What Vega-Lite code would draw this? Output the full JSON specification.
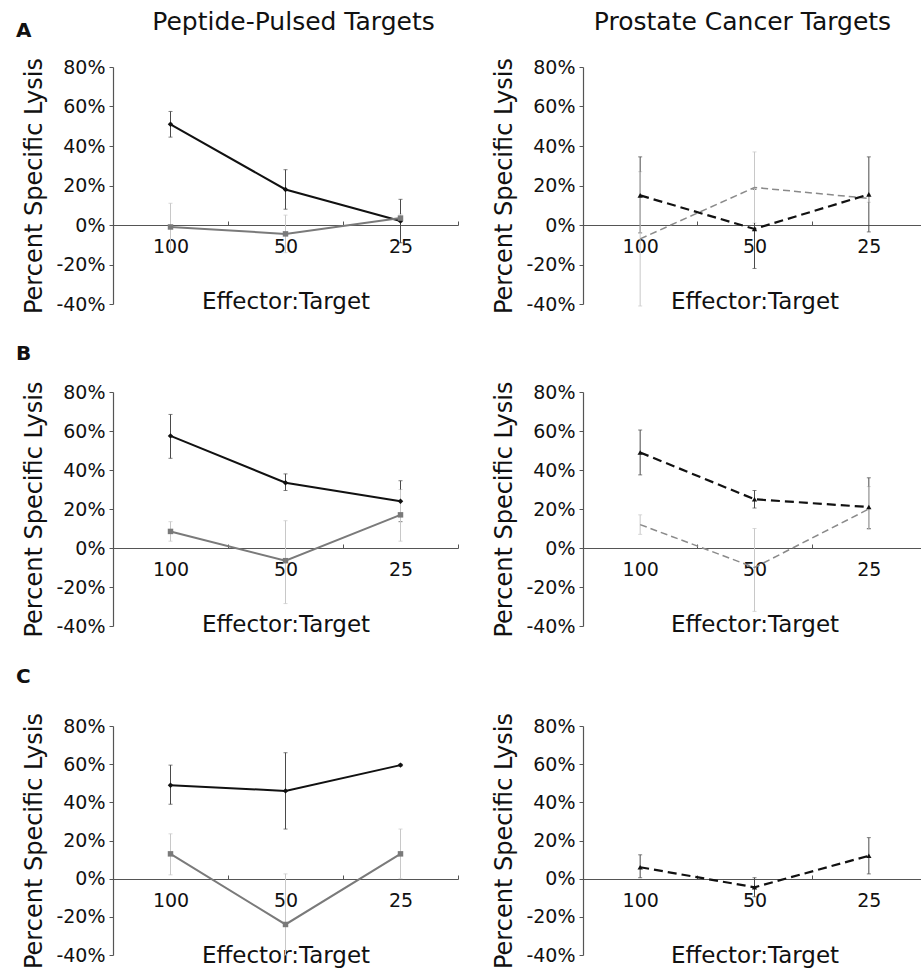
{
  "$schema": "https://vega.github.io/schema/vega-lite/v6.json",
  "background": "white",
  "padding": {"left": 15, "top": 10, "right": 0, "bottom": 0},
  "datasets": {
    "lysis": [
      {"panel": "A-peptide", "ratio": "100", "series": "target", "pct": 51, "lo": 44.5, "hi": 57.5},
      {"panel": "A-peptide", "ratio": "50", "series": "target", "pct": 18, "lo": 8, "hi": 28},
      {"panel": "A-peptide", "ratio": "25", "series": "target", "pct": 2, "lo": -9, "hi": 13},
      {"panel": "A-peptide", "ratio": "100", "series": "control", "pct": -1, "lo": -13, "hi": 11},
      {"panel": "A-peptide", "ratio": "50", "series": "control", "pct": -4.5, "lo": -14, "hi": 5},
      {"panel": "A-peptide", "ratio": "25", "series": "control", "pct": 3.5, "lo": 1.5, "hi": 5.5},

      {"panel": "A-prostate", "ratio": "100", "series": "target", "pct": 15, "lo": -4, "hi": 34.5},
      {"panel": "A-prostate", "ratio": "50", "series": "target", "pct": -2, "lo": -22, "hi": 18},
      {"panel": "A-prostate", "ratio": "25", "series": "target", "pct": 15.5, "lo": -3.5, "hi": 34.5},
      {"panel": "A-prostate", "ratio": "100", "series": "control", "pct": -7, "lo": -41, "hi": 27},
      {"panel": "A-prostate", "ratio": "50", "series": "control", "pct": 19, "lo": 1, "hi": 37},
      {"panel": "A-prostate", "ratio": "25", "series": "control", "pct": 13.5, "lo": 11.5, "hi": 15.5},

      {"panel": "B-peptide", "ratio": "100", "series": "target", "pct": 57.5, "lo": 46, "hi": 68.5},
      {"panel": "B-peptide", "ratio": "50", "series": "target", "pct": 33.5, "lo": 29.5, "hi": 38},
      {"panel": "B-peptide", "ratio": "25", "series": "target", "pct": 24, "lo": 13.5, "hi": 34.5},
      {"panel": "B-peptide", "ratio": "100", "series": "control", "pct": 8.5, "lo": 3.5, "hi": 13.5},
      {"panel": "B-peptide", "ratio": "50", "series": "control", "pct": -6.5, "lo": -28.5, "hi": 14},
      {"panel": "B-peptide", "ratio": "25", "series": "control", "pct": 17, "lo": 3.5, "hi": 30},

      {"panel": "B-prostate", "ratio": "100", "series": "target", "pct": 49, "lo": 37.5, "hi": 60.5},
      {"panel": "B-prostate", "ratio": "50", "series": "target", "pct": 25, "lo": 20.5, "hi": 29.5},
      {"panel": "B-prostate", "ratio": "25", "series": "target", "pct": 21, "lo": 10, "hi": 36},
      {"panel": "B-prostate", "ratio": "100", "series": "control", "pct": 12, "lo": 7, "hi": 17},
      {"panel": "B-prostate", "ratio": "50", "series": "control", "pct": -10, "lo": -32.5, "hi": 10},
      {"panel": "B-prostate", "ratio": "25", "series": "control", "pct": 20, "lo": 9.5, "hi": 31.5},

      {"panel": "C-peptide", "ratio": "100", "series": "target", "pct": 49, "lo": 39, "hi": 59.5},
      {"panel": "C-peptide", "ratio": "50", "series": "target", "pct": 46, "lo": 26, "hi": 66},
      {"panel": "C-peptide", "ratio": "25", "series": "target", "pct": 59.5, "lo": 59, "hi": 60},
      {"panel": "C-peptide", "ratio": "100", "series": "control", "pct": 13, "lo": 2, "hi": 23.5},
      {"panel": "C-peptide", "ratio": "50", "series": "control", "pct": -24, "lo": -40, "hi": 2.5},
      {"panel": "C-peptide", "ratio": "25", "series": "control", "pct": 13, "lo": 0, "hi": 26},

      {"panel": "C-prostate", "ratio": "100", "series": "target", "pct": 6, "lo": 0.5, "hi": 12.5},
      {"panel": "C-prostate", "ratio": "50", "series": "target", "pct": -4.5, "lo": -9.5, "hi": 0.5},
      {"panel": "C-prostate", "ratio": "25", "series": "target", "pct": 12, "lo": 2.5, "hi": 21.5}
    ]
  },
  "config": {
    "font": "DejaVu Sans",
    "view": {"stroke": null},
    "axis": {
      "labelFont": "DejaVu Sans", "labelFontSize": 19, "labelColor": "#111",
      "titleFont": "DejaVu Sans", "titleFontSize": 23, "titleFontWeight": "normal", "titleColor": "#111",
      "domainColor": "#555", "domainWidth": 1.2, "tickColor": "#555", "tickWidth": 1, "grid": false
    },
    "axisY": {"values": [-40, -20, 0, 20, 40, 60, 80], "labelExpr": "datum.value + '%'", "tickSize": 4, "labelPadding": 4, "titlePadding": 9, "titleFontSize": 24},
    "axisX": {"labelAngle": 0, "tickBand": "extent", "tickSize": -4, "labelPadding": 16, "titlePadding": 34},
    "title": {"font": "DejaVu Sans", "color": "#111"}
  },
  "spacing": 29,
  "vconcat": [
    {
      "title": {"text": "A", "anchor": "start", "frame": "bounds", "fontSize": 20, "fontWeight": "bold", "dx": -7, "dy": 35, "offset": 4},
      "spacing": 33,
      "hconcat": [
        {
          "width": 345, "height": 237,
          "title": {"text": "Peptide-Pulsed Targets", "fontSize": 25, "fontWeight": "normal", "offset": 22, "dx": 8},
          "data": {"name": "lysis"},
          "transform": [{"filter": {"field": "panel", "equal": "A-peptide"}}],
          "encoding": {
            "x": {"field": "ratio", "type": "ordinal", "sort": ["100", "50", "25"], "scale": {"type": "band", "paddingInner": 0, "paddingOuter": 0}, "axis": {"title": "Effector:Target", "offset": -79}}
          },
          "layer": [
            {"mark": {"type": "errorbar", "ticks": {"size": 4}, "thickness": 1},
             "encoding": {"y": {"field": "lo", "type": "quantitative", "scale": {"domain": [-40, 80], "nice": false, "zero": false}, "axis": {"title": "Percent Specific Lysis"}}, "y2": {"field": "hi"},
                          "color": {"field": "series", "scale": {"domain": ["target", "control"], "range": ["#4a4a4a", "#c8c8c8"]}, "legend": null}}},
            {"mark": {"type": "line", "strokeWidth": 2},
             "encoding": {"y": {"field": "pct", "type": "quantitative", "axis": {"title": "Percent Specific Lysis"}},
                          "color": {"field": "series", "scale": {"domain": ["target", "control"], "range": ["#111111", "#7a7a7a"]}, "legend": null}}},
            {"mark": {"type": "point", "filled": true, "opacity": 1},
             "encoding": {"y": {"field": "pct", "type": "quantitative", "axis": {"title": "Percent Specific Lysis"}},
                          "color": {"field": "series", "scale": {"domain": ["target", "control"], "range": ["#111111", "#7a7a7a"]}, "legend": null},
                          "shape": {"field": "series", "scale": {"domain": ["target", "control"], "range": ["diamond", "square"]}, "legend": null},
                          "size": {"value": 30}}}
          ],
          "resolve": {"scale": {"color": "independent"}}
        },
        {
          "width": 343, "height": 237,
          "title": {"text": "Prostate Cancer Targets", "fontSize": 25, "fontWeight": "normal", "offset": 22, "dx": -12},
          "data": {"name": "lysis"},
          "transform": [{"filter": {"field": "panel", "equal": "A-prostate"}}],
          "encoding": {
            "x": {"field": "ratio", "type": "ordinal", "sort": ["100", "50", "25"], "scale": {"type": "band", "paddingInner": 0, "paddingOuter": 0}, "axis": {"title": "Effector:Target", "offset": -79}}
          },
          "layer": [
            {"mark": {"type": "errorbar", "ticks": {"size": 4}, "thickness": 1},
             "encoding": {"y": {"field": "lo", "type": "quantitative", "scale": {"domain": [-40, 80], "nice": false, "zero": false}, "axis": {"title": "Percent Specific Lysis"}}, "y2": {"field": "hi"},
                          "color": {"field": "series", "scale": {"domain": ["target", "control"], "range": ["#4a4a4a", "#c8c8c8"]}, "legend": null}}},
            {"mark": {"type": "line", "strokeWidth": 1.5, "strokeDash": [7, 4]},
             "transform": [{"filter": {"field": "series", "equal": "control"}}],
             "encoding": {"y": {"field": "pct", "type": "quantitative", "axis": {"title": "Percent Specific Lysis"}},
                          "color": {"value": "#8a8a8a"}}},
            {"mark": {"type": "line", "strokeWidth": 2.2, "strokeDash": [9, 5]},
             "transform": [{"filter": {"field": "series", "equal": "target"}}],
             "encoding": {"y": {"field": "pct", "type": "quantitative", "axis": {"title": "Percent Specific Lysis"}},
                          "color": {"value": "#111111"}}},
            {"mark": {"type": "point", "filled": true, "opacity": 1, "shape": "triangle-up", "size": 28, "color": "#111111"},
             "transform": [{"filter": {"field": "series", "equal": "target"}}],
             "encoding": {"y": {"field": "pct", "type": "quantitative", "axis": {"title": "Percent Specific Lysis"}}}}
          ],
          "resolve": {"scale": {"color": "independent"}}
        }
      ]
    },
    {
      "title": {"text": "B", "anchor": "start", "frame": "bounds", "fontSize": 20, "fontWeight": "bold", "dx": -7, "offset": 17},
      "spacing": 33,
      "hconcat": [
        {
          "width": 345, "height": 234,
          "data": {"name": "lysis"},
          "transform": [{"filter": {"field": "panel", "equal": "B-peptide"}}],
          "encoding": {
            "x": {"field": "ratio", "type": "ordinal", "sort": ["100", "50", "25"], "scale": {"type": "band", "paddingInner": 0, "paddingOuter": 0}, "axis": {"title": "Effector:Target", "offset": -78}}
          },
          "layer": [
            {"mark": {"type": "errorbar", "ticks": {"size": 4}, "thickness": 1},
             "encoding": {"y": {"field": "lo", "type": "quantitative", "scale": {"domain": [-40, 80], "nice": false, "zero": false}, "axis": {"title": "Percent Specific Lysis"}}, "y2": {"field": "hi"},
                          "color": {"field": "series", "scale": {"domain": ["target", "control"], "range": ["#4a4a4a", "#c8c8c8"]}, "legend": null}}},
            {"mark": {"type": "line", "strokeWidth": 2},
             "encoding": {"y": {"field": "pct", "type": "quantitative", "axis": {"title": "Percent Specific Lysis"}},
                          "color": {"field": "series", "scale": {"domain": ["target", "control"], "range": ["#111111", "#7a7a7a"]}, "legend": null}}},
            {"mark": {"type": "point", "filled": true, "opacity": 1},
             "encoding": {"y": {"field": "pct", "type": "quantitative", "axis": {"title": "Percent Specific Lysis"}},
                          "color": {"field": "series", "scale": {"domain": ["target", "control"], "range": ["#111111", "#7a7a7a"]}, "legend": null},
                          "shape": {"field": "series", "scale": {"domain": ["target", "control"], "range": ["diamond", "square"]}, "legend": null},
                          "size": {"value": 30}}}
          ],
          "resolve": {"scale": {"color": "independent"}}
        },
        {
          "width": 343, "height": 234,
          "data": {"name": "lysis"},
          "transform": [{"filter": {"field": "panel", "equal": "B-prostate"}}],
          "encoding": {
            "x": {"field": "ratio", "type": "ordinal", "sort": ["100", "50", "25"], "scale": {"type": "band", "paddingInner": 0, "paddingOuter": 0}, "axis": {"title": "Effector:Target", "offset": -78}}
          },
          "layer": [
            {"mark": {"type": "errorbar", "ticks": {"size": 4}, "thickness": 1},
             "encoding": {"y": {"field": "lo", "type": "quantitative", "scale": {"domain": [-40, 80], "nice": false, "zero": false}, "axis": {"title": "Percent Specific Lysis"}}, "y2": {"field": "hi"},
                          "color": {"field": "series", "scale": {"domain": ["target", "control"], "range": ["#4a4a4a", "#c8c8c8"]}, "legend": null}}},
            {"mark": {"type": "line", "strokeWidth": 1.5, "strokeDash": [7, 4]},
             "transform": [{"filter": {"field": "series", "equal": "control"}}],
             "encoding": {"y": {"field": "pct", "type": "quantitative", "axis": {"title": "Percent Specific Lysis"}},
                          "color": {"value": "#8a8a8a"}}},
            {"mark": {"type": "line", "strokeWidth": 2.2, "strokeDash": [9, 5]},
             "transform": [{"filter": {"field": "series", "equal": "target"}}],
             "encoding": {"y": {"field": "pct", "type": "quantitative", "axis": {"title": "Percent Specific Lysis"}},
                          "color": {"value": "#111111"}}},
            {"mark": {"type": "point", "filled": true, "opacity": 1, "shape": "triangle-up", "size": 28, "color": "#111111"},
             "transform": [{"filter": {"field": "series", "equal": "target"}}],
             "encoding": {"y": {"field": "pct", "type": "quantitative", "axis": {"title": "Percent Specific Lysis"}}}}
          ],
          "resolve": {"scale": {"color": "independent"}}
        }
      ]
    },
    {
      "title": {"text": "C", "anchor": "start", "frame": "bounds", "fontSize": 20, "fontWeight": "bold", "dx": -7, "offset": 25},
      "spacing": 33,
      "hconcat": [
        {
          "width": 345, "height": 229,
          "data": {"name": "lysis"},
          "transform": [{"filter": {"field": "panel", "equal": "C-peptide"}}],
          "encoding": {
            "x": {"field": "ratio", "type": "ordinal", "sort": ["100", "50", "25"], "scale": {"type": "band", "paddingInner": 0, "paddingOuter": 0}, "axis": {"title": "Effector:Target", "offset": -76}}
          },
          "layer": [
            {"mark": {"type": "errorbar", "ticks": {"size": 4}, "thickness": 1},
             "encoding": {"y": {"field": "lo", "type": "quantitative", "scale": {"domain": [-40, 80], "nice": false, "zero": false}, "axis": {"title": "Percent Specific Lysis"}}, "y2": {"field": "hi"},
                          "color": {"field": "series", "scale": {"domain": ["target", "control"], "range": ["#4a4a4a", "#c8c8c8"]}, "legend": null}}},
            {"mark": {"type": "line", "strokeWidth": 2},
             "encoding": {"y": {"field": "pct", "type": "quantitative", "axis": {"title": "Percent Specific Lysis"}},
                          "color": {"field": "series", "scale": {"domain": ["target", "control"], "range": ["#111111", "#7a7a7a"]}, "legend": null}}},
            {"mark": {"type": "point", "filled": true, "opacity": 1},
             "encoding": {"y": {"field": "pct", "type": "quantitative", "axis": {"title": "Percent Specific Lysis"}},
                          "color": {"field": "series", "scale": {"domain": ["target", "control"], "range": ["#111111", "#7a7a7a"]}, "legend": null},
                          "shape": {"field": "series", "scale": {"domain": ["target", "control"], "range": ["diamond", "square"]}, "legend": null},
                          "size": {"value": 30}}}
          ],
          "resolve": {"scale": {"color": "independent"}}
        },
        {
          "width": 343, "height": 229,
          "data": {"name": "lysis"},
          "transform": [{"filter": {"field": "panel", "equal": "C-prostate"}}],
          "encoding": {
            "x": {"field": "ratio", "type": "ordinal", "sort": ["100", "50", "25"], "scale": {"type": "band", "paddingInner": 0, "paddingOuter": 0}, "axis": {"title": "Effector:Target", "offset": -76}}
          },
          "layer": [
            {"mark": {"type": "errorbar", "ticks": {"size": 4}, "thickness": 1, "color": "#4a4a4a"},
             "encoding": {"y": {"field": "lo", "type": "quantitative", "scale": {"domain": [-40, 80], "nice": false, "zero": false}, "axis": {"title": "Percent Specific Lysis"}}, "y2": {"field": "hi"}}},
            {"mark": {"type": "line", "strokeWidth": 2.2, "strokeDash": [9, 5], "color": "#111111"},
             "encoding": {"y": {"field": "pct", "type": "quantitative", "axis": {"title": "Percent Specific Lysis"}}}},
            {"mark": {"type": "point", "filled": true, "opacity": 1, "shape": "triangle-up", "size": 28, "color": "#111111"},
             "encoding": {"y": {"field": "pct", "type": "quantitative", "axis": {"title": "Percent Specific Lysis"}}}}
          ]
        }
      ]
    }
  ]
}
